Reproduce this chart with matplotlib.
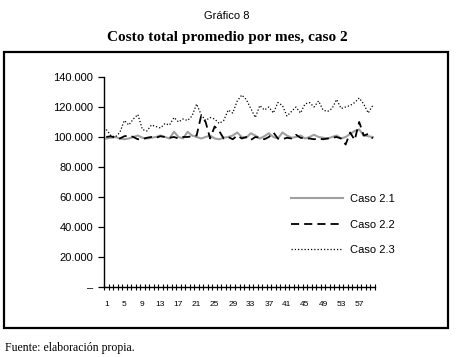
"""
Costo total promedio por mes, caso 2 (Grafico 8)
"""
import matplotlib
matplotlib.use('Agg')
import matplotlib.pyplot as plt
from matplotlib.patches import Rectangle
import numpy as np

# months 1..60
meses = list(range(1, 61))

caso_21 = [99, 99.5, 100, 99, 98.5, 99, 100, 101, 99.5, 99,
           99.5, 100, 101, 100, 99, 103.5, 100, 99, 103.5, 101,
           100, 99, 100, 101, 99, 98.5, 99.5, 100, 101, 103,
           100, 99.5, 102.5, 101, 99, 100.5, 102.5, 100, 99, 103,
           101, 99.5, 100, 101, 99, 100, 101.5, 100, 99.5, 99,
           100, 101, 99, 100, 102, 104, 105, 101, 100.5, 100]

caso_22 = [100, 100.5, 99.5, 99, 100.5, 101, 100, 98.5, 98.5, 99.5,
           100, 99.5, 100.5, 100, 99.5, 100, 99, 100, 100, 100.5,
           101, 114, 110, 99, 107, 104, 99, 100, 98.5, 101,
           99, 100, 98, 100, 99.5, 98.5, 100, 103, 99, 98.5,
           99.5, 99, 101.5, 99.5, 99, 99, 98.5, 99, 98.5, 99,
           99.5, 100, 99, 95, 103, 98, 110, 101, 102, 99]

caso_23 = [105, 101, 100, 103, 111, 108, 112, 115, 105, 104,
           108, 107, 106, 109, 108, 113, 110, 112, 111, 114,
           122, 115, 111, 113, 112, 109, 111, 118, 116, 124,
           128, 125, 119, 113, 121, 118, 120, 116, 123, 121,
           114, 117, 120, 116, 122, 123, 120, 124, 118, 117,
           119, 125, 119, 120, 121, 123, 126, 122, 116, 121]

# values are in thousands
caso_21 = np.array(caso_21) * 1000
caso_22 = np.array(caso_22) * 1000
caso_23 = np.array(caso_23) * 1000

y_ticks = [0, 20000, 40000, 60000, 80000, 100000, 120000, 140000]
y_labels = ['–', '20.000', '40.000', '60.000', '80.000', '100.000', '120.000', '140.000']
x_labels = list(range(1, 58, 4))

W, H = 457, 357
fig = plt.figure(figsize=(W / 100, H / 100), dpi=100)
fig.patch.set_facecolor('white')

sans = 'Liberation Sans'
serif = 'Liberation Serif'

# outer frame
fig.patches.append(Rectangle((4 / W, 1 - 328 / H), 444 / W, 276 / H,
                             transform=fig.transFigure, fill=False,
                             edgecolor='black', linewidth=1.6))

fig.text(227 / W, 1 - 16 / H, 'Gráfico 8', ha='center', va='center',
         family=sans, fontsize=8)
fig.text(227 / W, 1 - 37 / H, 'Costo total promedio por mes, caso 2',
         ha='center', va='center', family=serif, fontsize=11, fontweight='bold')
fig.text(5 / W, 1 - 348 / H, 'Fuente: elaboración propia.', ha='left',
         va='center', family=serif, fontsize=8.5)

ax = fig.add_axes([104 / W, 1 - 287 / H, 271 / W, 210 / H])

ax.plot(meses, caso_21, color='#a0a0a0', linewidth=1.5, label='Caso 2.1')
l2, = ax.plot(meses, caso_22, color='black', linewidth=1.3, label='Caso 2.2')
l2.set_dashes((4.5, 2.8))
ax.plot(meses, caso_23, color='black', linewidth=0.9,
        linestyle=(0, (1, 1.6)), label='Caso 2.3')

ax.set_xlim(0.5, 60.5)
ax.set_ylim(0, 140000)

for s in ['top', 'right']:
    ax.spines[s].set_visible(False)
ax.spines['left'].set_linewidth(1.0)
ax.spines['bottom'].set_linewidth(1.0)

ax.set_yticks(y_ticks)
ax.set_yticklabels(y_labels, family=sans, fontsize=8)
ax.tick_params(axis='y', direction='out', length=4, width=0.9, pad=4)

# category boundaries as ticks, labels every 4 months
ax.set_xticks(np.arange(0.5, 61, 1))
ax.set_xticklabels([])
ax.tick_params(axis='x', which='major', direction='inout', length=5, width=0.8)
ax.set_xticks(x_labels, minor=True)
ax.set_xticklabels([str(v) for v in x_labels], minor=True, family=sans, fontsize=6)
ax.tick_params(axis='x', which='minor', length=0, pad=10)

ax.legend(loc='upper left', bbox_to_anchor=(291 / W, 1 - 194 / H),
          bbox_transform=fig.transFigure, frameon=False, prop={'family': sans, 'size': 8},
          handlelength=4.7, handletextpad=0.6, labelspacing=1.4,
          borderpad=0, borderaxespad=0)

fig.savefig('out.png', dpi=100, facecolor='white')
